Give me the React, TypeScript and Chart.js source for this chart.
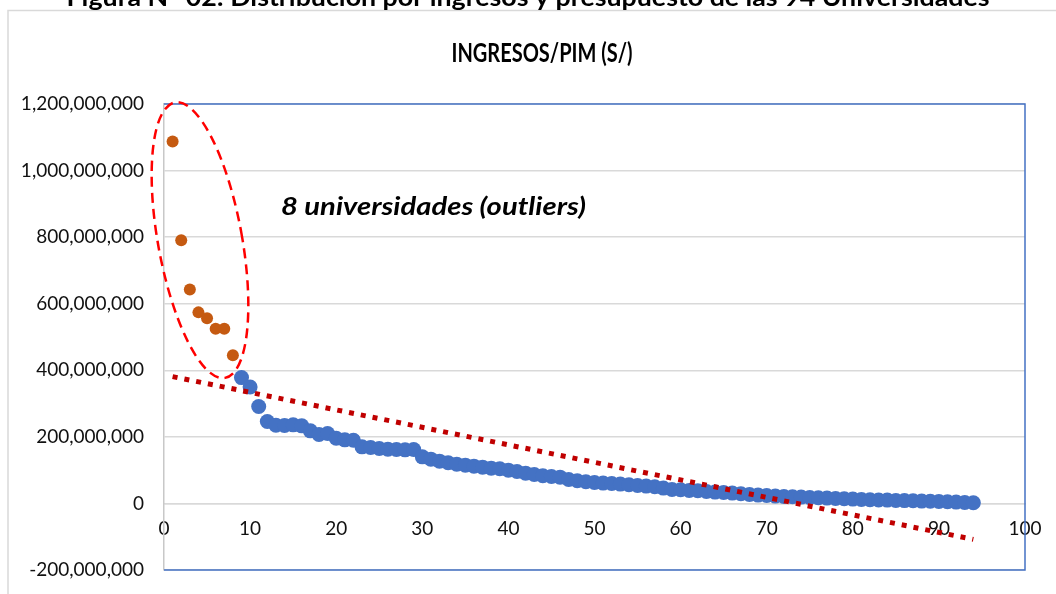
import React, { useEffect, useRef } from 'react';
import { Chart, registerables } from 'chart.js';

Chart.register(...registerables);

const FIGURE_TITLE = 'Figura N° 02: Distribución por ingresos y presupuesto de las 94 Universidades';
const CHART_TITLE = 'INGRESOS/PIM (S/)';
const ANNOTATION = '8 universidades (outliers)';

// Outliers (orange)
const outlierX = [1, 2, 3, 4, 5, 6, 7, 8];
const outlierY = [1087e6, 791e6, 643e6, 574e6, 556e6, 525e6, 525e6, 445e6];

// Remaining universities (blue)
const restX = [
  9, 10, 11, 12, 13, 14, 15, 16, 17, 18, 19, 20, 21, 22, 23, 24, 25, 26, 27, 28, 29, 30,
  31, 32, 33, 34, 35, 36, 37, 38, 39, 40, 41, 42, 43, 44, 45, 46, 47, 48, 49, 50, 51, 52,
  53, 54, 55, 56, 57, 58, 59, 60, 61, 62, 63, 64, 65, 66, 67, 68, 69, 70, 71, 72, 73, 74,
  75, 76, 77, 78, 79, 80, 81, 82, 83, 84, 85, 86, 87, 88, 89, 90, 91, 92, 93, 94,
];
const restY = [
  378e6, 350e6, 291e6, 246e6, 235e6, 234e6, 236e6, 233e6, 218e6, 207e6, 210e6, 196e6,
  191e6, 190e6, 170e6, 168e6, 165e6, 163e6, 162e6, 161e6, 162e6, 140e6, 133e6, 127e6,
  122e6, 118e6, 115e6, 112e6, 109e6, 106e6, 104e6, 100e6, 96e6, 91e6, 87e6, 83e6, 81e6,
  79e6, 72e6, 68e6, 65e6, 63e6, 61e6, 60e6, 58e6, 56e6, 54e6, 52e6, 50e6, 46e6, 42e6,
  41e6, 39e6, 38e6, 36e6, 34e6, 33e6, 31e6, 29e6, 27e6, 25e6, 24e6, 22e6, 21e6, 20e6,
  19e6, 18e6, 17e6, 16e6, 15e6, 14e6, 13e6, 12e6, 11e6, 10.5e6, 10e6, 9e6, 8.5e6, 8e6,
  7e6, 6.5e6, 6e6, 5e6, 4e6, 3e6, 2e6,
];

// Linear trend line (Excel trendline endpoints)
const trendX = [1, 94];
const trendY = [381e6, -108e6];

const yTicks = [-200e6, 0, 200e6, 400e6, 600e6, 800e6, 1000e6, 1200e6];
const xTicks = [0, 10, 20, 30, 40, 50, 60, 70, 80, 90, 100];

// Dashed ellipse around the outliers (center in data units)
const ellipseCenterX = 4.18;
const ellipseCenterY = 791e6;
// Annotation anchor (center x, baseline y) in data units
const annotationX = 31.3;
const annotationY = 866e6;

const FONT = 'Lato, "Open Sans", sans-serif';

function drawFitted(
  ctx: CanvasRenderingContext2D,
  text: string,
  cx: number,
  baseline: number,
  font: string,
  targetWidth: number,
  color: string
) {
  ctx.save();
  ctx.font = font;
  const w = ctx.measureText(text).width;
  const sx = targetWidth / w;
  ctx.translate(cx, baseline);
  ctx.scale(sx, 1);
  ctx.textAlign = 'center';
  ctx.textBaseline = 'alphabetic';
  ctx.fillStyle = color;
  ctx.fillText(text, 0, 0);
  ctx.restore();
}

const decorPlugin = {
  id: 'decor',
  beforeDraw(chart: any) {
    const { ctx, width, height } = chart;
    ctx.save();
    ctx.fillStyle = '#ffffff';
    ctx.fillRect(0, 0, width, height);
    // outer chart frame
    ctx.strokeStyle = '#D9D9D9';
    ctx.lineWidth = 1.5;
    ctx.beginPath();
    ctx.moveTo(8, height);
    ctx.lineTo(8, 10.5);
    ctx.lineTo(width, 10.5);
    ctx.stroke();
    ctx.restore();
    drawFitted(ctx, FIGURE_TITLE, 528, 6, `bold 24px ${FONT}`, 923, '#000');
    drawFitted(ctx, CHART_TITLE, 542, 62, `bold 27px ${FONT}`, 181, '#000');
  },
  afterDraw(chart: any) {
    const { ctx, chartArea, scales } = chart;
    const { left, right, top, bottom } = chartArea;
    ctx.save();
    // blue plot frame (top, right, bottom)
    ctx.strokeStyle = '#4472C4';
    ctx.lineWidth = 1.5;
    ctx.beginPath();
    ctx.moveTo(left, top);
    ctx.lineTo(right, top);
    ctx.lineTo(right, bottom);
    ctx.lineTo(left, bottom);
    ctx.stroke();

    // dashed ellipse
    const ex = scales.x.getPixelForValue(ellipseCenterX);
    const ey = scales.y.getPixelForValue(ellipseCenterY);
    ctx.strokeStyle = '#FF0000';
    ctx.lineWidth = 2.5;
    ctx.setLineDash([10, 6]);
    ctx.beginPath();
    ctx.ellipse(ex, ey, 42, 140, -0.18, 0, Math.PI * 2);
    ctx.stroke();
    ctx.setLineDash([]);
    ctx.restore();

    const ax = scales.x.getPixelForValue(annotationX);
    const ay = scales.y.getPixelForValue(annotationY);
    drawFitted(ctx, ANNOTATION, ax, ay, `italic bold 25px ${FONT}`, 305, '#000');
  },
};

export default function App() {
  const canvasRef = useRef<HTMLCanvasElement | null>(null);

  useEffect(() => {
    let chart: Chart | null = null;
    let cancelled = false;
    const fontsToLoad = [`19px Lato`, `bold 25px Lato`, `italic bold 25px Lato`];
    const fontPromise = (document as any).fonts
      ? Promise.all(fontsToLoad.map((f) => (document as any).fonts.load(f))).catch(() => null)
      : Promise.resolve(null);

    fontPromise.then(() => {
      if (cancelled || !canvasRef.current) return;
      chart = new Chart(canvasRef.current, {
        type: 'scatter',
        data: {
          datasets: [
            {
              type: 'line',
              label: 'Tendencia',
              data: trendX.map((x, i) => ({ x, y: trendY[i] })),
              borderColor: '#C00000',
              borderWidth: 5,
              borderDash: [5, 7],
              borderCapStyle: 'butt',
              pointRadius: 0,
              fill: false,
              order: 0,
            } as any,
            {
              label: 'Outliers',
              data: outlierX.map((x, i) => ({ x, y: outlierY[i] })),
              backgroundColor: '#C55A11',
              borderWidth: 0,
              pointRadius: 6,
              order: 1,
            },
            {
              label: 'Universidades',
              data: restX.map((x, i) => ({ x, y: restY[i] })),
              backgroundColor: '#4472C4',
              borderWidth: 0,
              pointRadius: 7.5,
              order: 2,
            },
          ],
        },
        options: {
          responsive: false,
          animation: false,
          devicePixelRatio: 1,
          layout: { padding: { left: 0, top: 104, right: 31, bottom: 24 } },
          plugins: {
            legend: { display: false },
            title: { display: false },
            tooltip: { enabled: false },
          },
          scales: {
            x: {
              type: 'linear',
              position: { y: 0 } as any,
              min: xTicks[0],
              max: xTicks[xTicks.length - 1],
              afterBuildTicks: (scale: any) => {
                scale.ticks = xTicks.map((v) => ({ value: v }));
              },
              afterFit: (scale: any) => {
                scale.paddingTop = 0;
                scale.paddingBottom = 0;
              },
              grid: { display: false, drawTicks: false },
              border: { display: true, color: '#D9D9D9', width: 1.5 },
              ticks: {
                padding: 14,
                color: '#111',
                font: { family: FONT, size: 19 },
                maxRotation: 0,
                autoSkip: false,
              },
            },
            y: {
              type: 'linear',
              position: 'left',
              min: yTicks[0],
              max: yTicks[yTicks.length - 1],
              afterBuildTicks: (scale: any) => {
                scale.ticks = yTicks.map((v) => ({ value: v }));
              },
              afterFit: (scale: any) => {
                scale.width = 164;
                scale.paddingTop = 0;
                scale.paddingBottom = 0;
              },
              grid: { color: '#D9D9D9', lineWidth: 1.5, drawTicks: false },
              border: { display: true, color: '#C8C8C8', width: 1.5 },
              ticks: {
                padding: 20,
                color: '#111',
                font: { family: FONT, size: 19 },
                callback: (v: any) => Number(v).toLocaleString('en-US'),
              },
            },
          },
        },
        plugins: [decorPlugin],
      });
    });

    return () => {
      cancelled = true;
      if (chart) chart.destroy();
    };
  }, []);

  return (
    <div style={{ position: 'absolute', left: 0, top: 0, width: 1056, height: 594 }}>
      <canvas ref={canvasRef} width={1056} height={594} style={{ display: 'block' }} />
    </div>
  );
}
